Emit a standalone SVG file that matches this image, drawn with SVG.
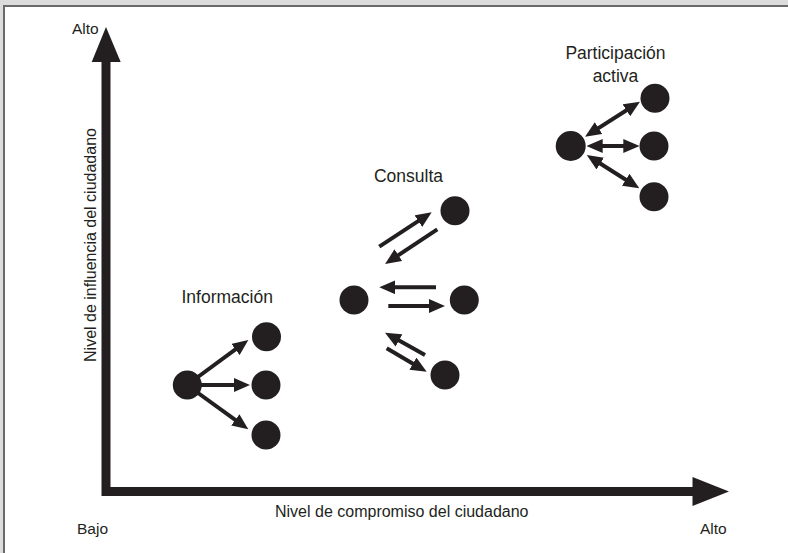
<svg xmlns="http://www.w3.org/2000/svg" width="788" height="553" viewBox="0 0 788 553">
  <style>
    .lbl { font-family: "Liberation Sans", Arial, sans-serif; fill: #231f20; }
    .axis-lbl { font-size: 15.5px; }
    .axis-title { font-size: 16px; }
    .grp-lbl { font-size: 17.5px; }
    .node { fill: #231f20; }
    .link { stroke: #231f20; stroke-width: 4; fill: none; marker-end: url(#head); }
    .link2 { stroke: #231f20; stroke-width: 4; fill: none; marker-start: url(#head2); marker-end: url(#head2); }
  </style>
  <defs>
    <marker id="head" markerWidth="4" markerHeight="3.5" refX="2" refY="1.75" orient="auto" markerUnits="strokeWidth">
      <path d="M0,0 L4,1.75 L0,3.5 z" fill="#231f20"/>
    </marker>
    <marker id="head2" markerWidth="4" markerHeight="3.5" refX="2" refY="1.75" orient="auto-start-reverse" markerUnits="strokeWidth">
      <path d="M0,0 L4,1.75 L0,3.5 z" fill="#231f20"/>
    </marker>
  </defs>

  <!-- panel -->
  <rect x="0" y="0" width="788" height="553" fill="#dcdcdc"/>
  <rect x="4" y="6" width="800" height="560" fill="#ffffff" stroke="#6a6a6a" stroke-width="2"/>

  <!-- axes -->
  <g id="axes">
    <path d="M106,60 V491.5 H695" stroke="#231f20" stroke-width="9" fill="none" stroke-linejoin="miter"/>
    <polygon points="106,27 91.7,62 120.7,62" fill="#231f20"/>
    <polygon points="729,491.5 692.5,477 692.5,506" fill="#231f20"/>
    <text class="lbl axis-lbl" x="72" y="34">Alto</text>
    <text class="lbl axis-lbl" x="77" y="534">Bajo</text>
    <text class="lbl axis-lbl" x="700" y="534">Alto</text>
    <text class="lbl axis-title" x="275" y="517">Nivel de compromiso del ciudadano</text>
    <text class="lbl axis-title" transform="translate(96,245) rotate(-90)" text-anchor="middle">Nivel de influencia del ciudadano</text>
  </g>

  <!-- connectors -->
  <g id="connectors">
    <!-- Información -->
    <line class="link" x1="187" y1="385" x2="241.9" y2="344.7"/>
    <line class="link" x1="187" y1="385" x2="242" y2="385"/>
    <line class="link" x1="187" y1="385" x2="241.8" y2="424.6"/>
    <!-- Consulta -->
    <line class="link" x1="379.3" y1="246.7" x2="425" y2="216.7"/>
    <line class="link" x1="437.3" y1="229.3" x2="391.7" y2="259.6"/>
    <line class="link" x1="436" y1="287.3" x2="387.3" y2="287.3"/>
    <line class="link" x1="388.3" y1="306" x2="437" y2="306"/>
    <line class="link" x1="425" y1="355" x2="392" y2="336.6"/>
    <line class="link" x1="386.7" y1="348.3" x2="419.8" y2="367.7"/>
    <!-- Participación activa -->
    <line class="link2" x1="591.8" y1="132.4" x2="633.2" y2="106"/>
    <line class="link2" x1="594.7" y1="146" x2="631.3" y2="146"/>
    <line class="link2" x1="593.5" y1="159.3" x2="632.5" y2="184"/>
  </g>

  <!-- Información -->
  <g id="informacion">
    <text class="lbl grp-lbl" x="181.5" y="303">Información</text>
    <circle class="node" cx="187.3" cy="385" r="14.5"/>
    <circle class="node" cx="266.5" cy="336.7" r="14.5"/>
    <circle class="node" cx="266" cy="385" r="14.5"/>
    <circle class="node" cx="266" cy="435" r="14.5"/>
  </g>

  <!-- Consulta -->
  <g id="consulta">
    <text class="lbl grp-lbl" x="408.5" y="182" text-anchor="middle">Consulta</text>
    <circle class="node" cx="354" cy="300" r="14.5"/>
    <circle class="node" cx="455" cy="210.7" r="14.5"/>
    <circle class="node" cx="464.3" cy="300" r="14.5"/>
    <circle class="node" cx="445" cy="375" r="14.5"/>
  </g>

  <!-- Participación activa -->
  <g id="participacion">
    <text class="lbl grp-lbl" x="615.5" y="59.3" text-anchor="middle">Participación</text>
    <text class="lbl grp-lbl" x="615.5" y="81.5" text-anchor="middle">activa</text>
    <circle class="node" cx="570.7" cy="146" r="15"/>
    <circle class="node" cx="655" cy="98.3" r="14.5"/>
    <circle class="node" cx="654" cy="146" r="14.5"/>
    <circle class="node" cx="654" cy="196.7" r="14.5"/>
  </g>
</svg>
